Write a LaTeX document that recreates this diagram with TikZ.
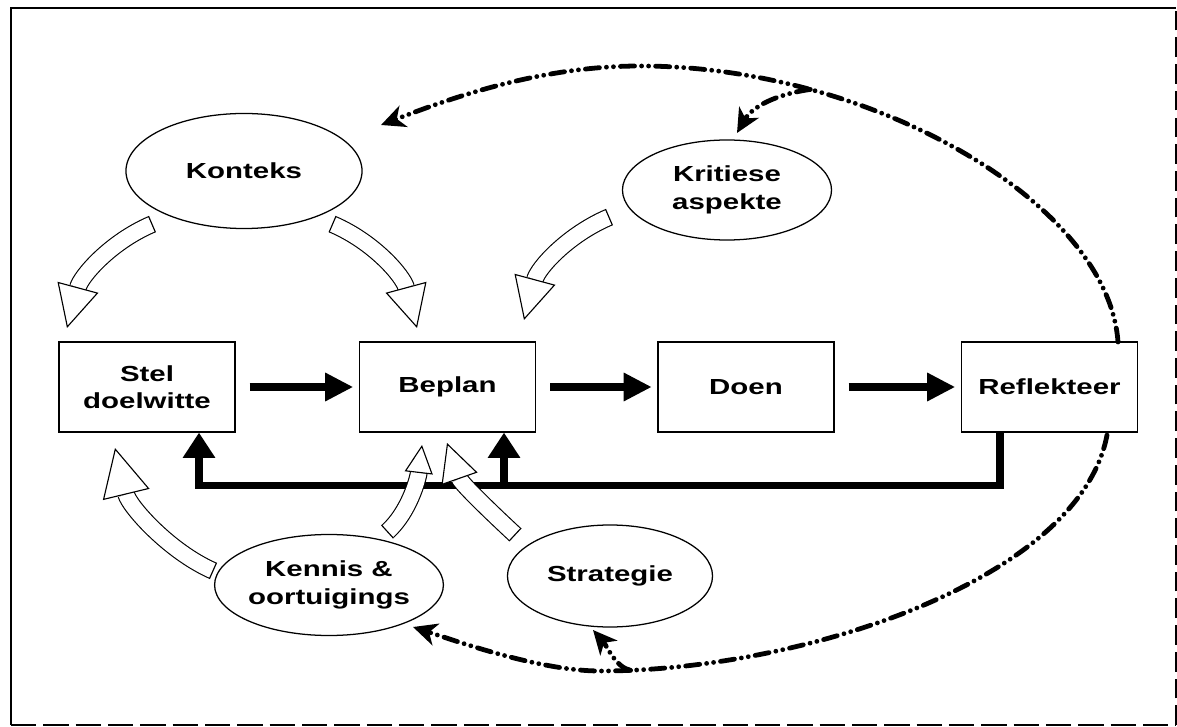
\documentclass[tikz,border=0pt]{standalone}
\usepackage{fontspec}
\newfontfamily\diafont[FakeStretch=1.35]{Liberation Sans}
\usetikzlibrary{shapes.geometric, arrows.meta}

\begin{document}
\begin{tikzpicture}[
            x=0.025cm, y=-0.025cm,
            stepbox/.style={
                rectangle,
                draw=black,
                line width=0.8pt,
                minimum width=4.4cm,
                minimum height=2.25cm,
                align=center,
                font=\diafont\bfseries\fontsize{15.5}{19.5}\selectfont
            },
            bubble/.style={
                ellipse,
                draw=black,
                line width=0.9pt,
                inner sep=0pt,
                align=center,
                font=\diafont\bfseries\fontsize{15.5}{19.5}\selectfont
            },
            flow/.style={line width=5.5pt, -{Triangle[length=20pt, width=19pt]}, shorten <=10pt, shorten >=4pt},
            fbline/.style={line width=5.5pt, line join=miter, -{Triangle[length=18pt, width=22pt]}},
            hollow/.style={
                draw=black,
                line width=0.8pt,
                double=white,
                double distance=11pt,
                arrows={Bar[width=12.6pt, line width=0.8pt]-Triangle[open, fill=white, length=#1, width=#1, line width=0.8pt]}
            },
            hollow/.default=30pt,
            loopback/.style={line width=3.4pt, line cap=round,
                dash pattern=on 10pt off 5pt on 0pt off 5pt on 0pt off 5pt,
                -{Stealth[length=17pt, width=16pt, inset=5pt]}}
        ]
        \useasboundingbox (0,0) rectangle (1177,727);

        % Frame
        \draw[line width=2pt] (11,725) -- (11,8) -- (1176,8);
        \draw[line width=1.6pt, dash pattern=on 18pt off 5pt] (11,725) -- (1176,725);
        \draw[line width=1.2pt, dash pattern=on 14pt off 5pt] (1176,725) -- (1176,8);

        % Steps of the cycle
        \node[stepbox] (stel) at (147,387) {Stel\\doelwitte};
        \node[stepbox] (beplan) at (447.5,387) {Beplan};
        \node[stepbox] (doen) at (746,387) {Doen};
        \node[stepbox] (refl) at (1049.5,387) {Reflekteer};

        % Influences
        \node[bubble, minimum width=5.9cm, minimum height=2.875cm] (konteks) at (244,171) {Konteks};
        \node[bubble, minimum width=5.225cm, minimum height=2.5cm] (kritiese) at (727,190) {Kritiese\\aspekte};
        \node[bubble, minimum width=5.15cm, minimum height=2.525cm] (kennis) at (329,585) {Kennis \&\\oortuigings};
        \node[bubble, minimum width=5.125cm, minimum height=2.55cm] (strategie) at (610,576) {Strategie};

        % Forward arrows
        \draw[flow] (stel) -- (beplan);
        \draw[flow] (beplan) -- (doen);
        \draw[flow] (doen) -- (refl);

        % Feedback line under the boxes
        \coordinate (fbr) at ([shift={(-49.5,53)}]refl.south);
        \coordinate (fbl) at ([shift={(52,53)}]stel.south);
        \coordinate (fbm) at ([shift={(56.5,53)}]beplan.south);
        \draw[fbline] (fbr |- refl.south) -- (fbr) -- (fbl) -- (fbl |- stel.south);
        \draw[fbline] (fbm) -- (fbm |- beplan.south);

        % Hollow influence arrows
        \draw[hollow] ([shift={(-91.5,53)}]konteks.center) .. controls +(-42,18) and +(14,-52) .. ([shift={(-80,-59)}]stel.center);
        \draw[hollow] ([shift={(88,53)}]konteks.center) .. controls +(42,18) and +(-14,-52) .. ([shift={(-30.5,-59)}]beplan.center);
        \draw[hollow] ([shift={(-117.5,27)}]kritiese.center) .. controls +(-42,18) and +(14,-52) .. ([shift={(76.5,-67)}]beplan.center);
        \draw[hollow=34pt] ([shift={(-115.5,-14)}]kennis.center) .. controls +(-45,-20) and +(14,58) .. ([shift={(-32,61)}]stel.center);
        \draw[hollow=20pt] ([shift={(58,-53)}]kennis.center) .. controls +(22,-20) and +(-4,34) .. ([shift={(-25.5,58)}]beplan.center);
        \draw[hollow=27pt] ([shift={(-94.5,-41)}]strategie.center) .. controls +(-28,-26) and +(14,40) .. ([shift={(-0.5,56)}]beplan.center);

        % Dash-dotted loops from Reflekteer
        \coordinate (peak) at (640,66);
        \coordinate (low) at (600,671);
        \draw[loopback] ([shift={(68.5,-45)}]refl.center) .. controls +(-10,-140) and +(230,0) .. (peak) coordinate[pos=0.75] (brtop)
            .. controls +(-100,0) and +(70,-27) .. ([shift={(137,-46)}]konteks.center);
        \draw[loopback] (brtop) .. controls +(-35,5) and +(15,-26) .. ([shift={(10,-57)}]kritiese.center);
        \draw[loopback] ([shift={(57.5,48)}]refl.center) .. controls +(-27,145) and +(200,0) .. (low) coordinate[pos=0.95] (brbot)
            .. controls +(-60,0) and +(43,14) .. ([shift={(84,42)}]kennis.center);
        \draw[loopback] (brbot) .. controls +(-15,-3) and +(14,16) .. ([shift={(-17,54)}]strategie.center);

        \end{tikzpicture}
\end{document}
